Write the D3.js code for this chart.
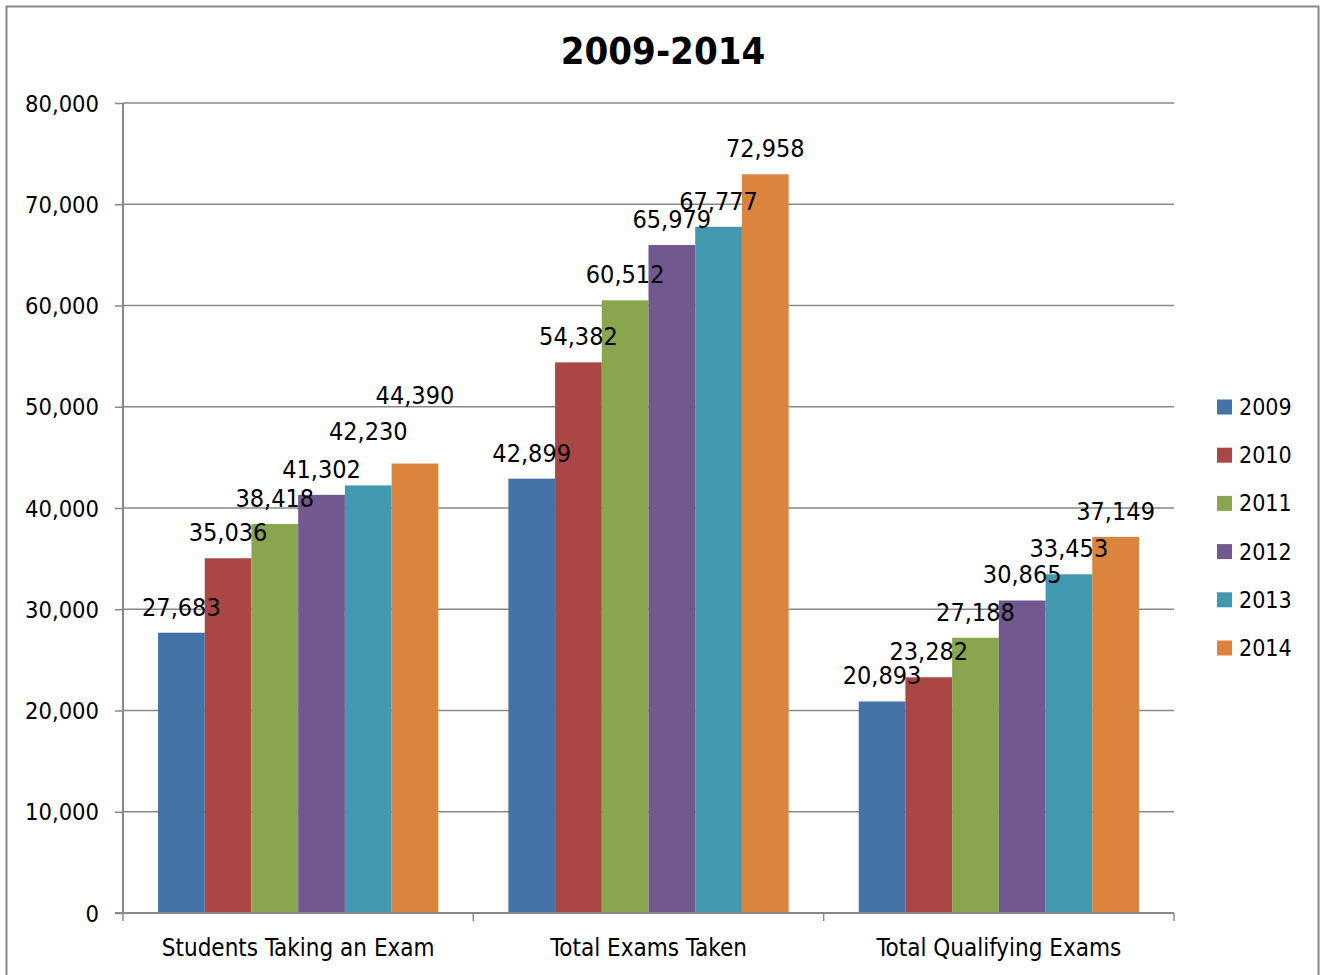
<!DOCTYPE html>
<html><head><meta charset="utf-8">
<script src="https://cdn.jsdelivr.net/npm/d3@7"></script>
<style>
body{margin:0;background:#fff;}
svg text{font-family:"DejaVu Sans Condensed","DejaVu Sans",sans-serif;font-stretch:condensed;fill:#000;}
</style></head>
<body><svg id="c" width="1321" height="975"></svg>
<script>
const categories = ["Students Taking an Exam","Total Exams Taken","Total Qualifying Exams"];
const years = ["2009","2010","2011","2012","2013","2014"];
const colors = ["#4572A7","#AA4643","#89A54E","#71588F","#4198AF","#DB843D"];
const s2009 = [27683, 42899, 20893];
const s2010 = [35036, 54382, 23282];
const s2011 = [38418, 60512, 27188];
const s2012 = [41302, 65979, 30865];
const s2013 = [42230, 67777, 33453];
const s2014 = [44390, 72958, 37149];
const series = [s2009,s2010,s2011,s2012,s2013,s2014];
const yTicks = [0,10000,20000,30000,40000,50000,60000,70000,80000];

const svg = d3.select("#c");
svg.append("rect").attr("x",6.5).attr("y",6.5).attr("width",1312).attr("height",980)
  .attr("fill","#fff").attr("stroke","#888").attr("stroke-width",2);

const L=123,R=1174,T=103,B=913;
const x = d3.scaleBand().domain(categories).range([L,R]).paddingInner(0).paddingOuter(0);
const xi = d3.scaleBand().domain(years).range([x.bandwidth()*0.1, x.bandwidth()*0.9]);
const y = d3.scaleLinear().domain([0,80000]).range([B,T]);
const fmt = d3.format(",");

// label nudges (layout only): extra upward shift for crowded labels, [series][category]
const nudge = (si,ci) => (ci===0 && si===4) ? 28 : (ci===0 && si===5) ? 43 : 0;

// gridlines
svg.append("g").selectAll("line").data(yTicks.filter(d=>d>0)).join("line")
  .attr("x1",L).attr("x2",R).attr("y1",d=>y(d)).attr("y2",d=>y(d))
  .attr("stroke","#888").attr("stroke-width",1.5);

// y axis
const ya = svg.append("g").attr("transform",`translate(${L},0)`)
  .call(d3.axisLeft(y).tickValues(yTicks).tickFormat(fmt).tickSize(8).tickPadding(16));
ya.select(".domain").attr("stroke","#888").attr("stroke-width",2).attr("d",`M-0,${T}V${B}`);
ya.selectAll(".tick line").attr("stroke","#888").attr("stroke-width",1.5);
ya.selectAll(".tick text").style("font-size","23.5px").attr("dy","0.35em");

// bars
const g = svg.append("g").selectAll("g").data(categories).join("g")
  .attr("transform",c=>`translate(${x(c)},0)`);
series.forEach((s,si)=>{
  g.append("rect")
    .attr("x",xi(years[si])).attr("width",xi.bandwidth())
    .attr("y",(c,ci)=>y(s[ci])).attr("height",(c,ci)=>B-y(s[ci]))
    .attr("fill",colors[si]);
});

// x axis
const xa = svg.append("g").attr("transform",`translate(0,${B})`)
  .call(d3.axisBottom(x).tickSize(0).tickPadding(26));
xa.select(".domain").attr("stroke","#888").attr("stroke-width",2).attr("d",`M${L-8},0H${R}`);
xa.selectAll(".tick text").style("font-size","24px").attr("dy","0.71em");
const bounds = [L, ...categories.map(c=>x(c)+x.bandwidth())];
xa.append("g").selectAll("line").data(bounds).join("line")
  .attr("x1",d=>d).attr("x2",d=>d).attr("y1",0).attr("y2",8)
  .attr("stroke","#888").attr("stroke-width",1.5);

// labels
series.forEach((s,si)=>{
  g.append("text")
    .attr("x",xi(years[si])+xi.bandwidth()/2)
    .attr("y",(c,ci)=>y(s[ci])-17-nudge(si,ci))
    .attr("text-anchor","middle")
    .style("font-size","25px")
    .text((c,ci)=>fmt(s[ci]));
});

// title
svg.append("text").attr("x",663).attr("y",64).attr("text-anchor","middle")
  .style("font-size","38px").style("font-weight","bold").text("2009-2014");

// legend
const lg = svg.append("g").selectAll("g").data(years).join("g")
  .attr("transform",(d,i)=>`translate(1217,${407+i*48.2})`);
lg.append("rect").attr("x",0).attr("y",-7.5).attr("width",15).attr("height",15)
  .attr("fill",(d,i)=>colors[i]);
lg.append("text").attr("x",22).attr("y",0).attr("dy","0.35em")
  .style("font-size","23px").text(d=>d);
</script></body></html>
